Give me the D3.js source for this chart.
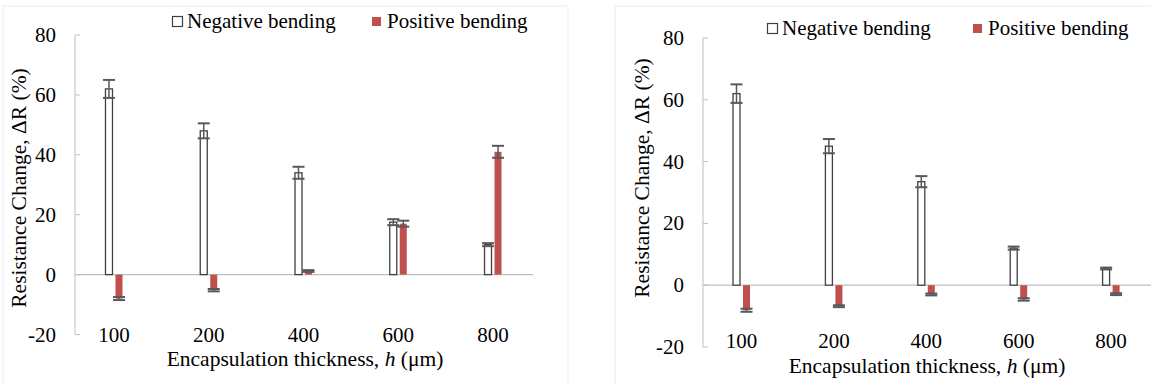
<!DOCTYPE html>
<html>
<head>
<meta charset="utf-8">
<script src="https://cdn.jsdelivr.net/npm/d3@7"></script>
<style>
  body { margin: 0; background: #fff; }
</style>
</head>
<body>
<svg id="chart" width="1151" height="384"></svg>
<script>
// thickness categories (um)
var thickness = ["100", "200", "400", "600", "800"];
var yTicks = [-20, 0, 20, 40, 60, 80];

// left panel
var leftNeg = [62, 48, 34, 17.5, 10];
var leftNegErr = [3, 2.5, 2, 1, 0.5];
var leftPos = [-8, -5.2, 1.2, 17, 41];
var leftPosErr = [0.5, 0.4, 0.3, 1, 2];

// right panel
var rightNeg = [62, 45, 33.5, 12, 5.4];
var rightNegErr = [3, 2.3, 1.8, 0.5, 0.3];
var rightPos = [-8.1, -6.8, -3, -4.6, -2.9];
var rightPosErr = [0.5, 0.3, 0.3, 0.4, 0.3];

var red = "#c0504d", dark = "#404040", errCol = "#595959", grid = "#bfbfbf";
var FONT = "'Liberation Serif', 'Times New Roman', Times, serif";
var FS = 21, FT = 21.5;

var svg = d3.select("#chart").attr("font-family", FONT);

function drawPanel(p) {
  var g = svg.append("g");

  // chart area border
  g.append("rect")
    .attr("x", p.box[0]).attr("y", p.box[1])
    .attr("width", p.box[2]).attr("height", p.box[3])
    .attr("fill", "none").attr("stroke", "#ececec");

  var x = d3.scaleBand().domain(thickness).range(p.xr);
  var y = d3.scaleLinear().domain([-20, 80]).range(p.yr);

  // y axis line + inside ticks
  g.append("line")
    .attr("x1", p.axisX).attr("x2", p.axisX)
    .attr("y1", y(80)).attr("y2", y(-20))
    .attr("stroke", grid).attr("stroke-width", 1);
  g.selectAll(".yt").data(yTicks).enter().append("line")
    .attr("x1", p.axisX).attr("x2", p.axisX + 5)
    .attr("y1", function(d){ return y(d); })
    .attr("y2", function(d){ return y(d); })
    .attr("stroke", grid);
  g.selectAll(".yl").data(yTicks).enter().append("text")
    .attr("x", p.axisX - 19)
    .attr("y", function(d){ return y(d) + 7; })
    .attr("text-anchor", "end")
    .attr("font-family", FONT)
    .attr("font-size", FS)
    .text(function(d){ return d; });

  // zero line
  g.append("line")
    .attr("x1", p.axisX).attr("x2", p.zeroEnd)
    .attr("y1", y(0)).attr("y2", y(0))
    .attr("stroke", grid).attr("stroke-width", 1.2);

  var bw = 7, gap = 3;
  function cx(i){ return x(thickness[i]) + x.bandwidth()/2; }

  // negative bending bars
  g.selectAll(".neg").data(p.neg).enter().append("rect")
    .attr("x", function(d, i){ return cx(i) - gap/2 - bw; })
    .attr("y", function(d){ return y(Math.max(0, d)); })
    .attr("width", bw)
    .attr("height", function(d){ return Math.abs(y(d) - y(0)); })
    .attr("fill", "#fff").attr("stroke", dark).attr("stroke-width", 1.3);

  // positive bending bars
  g.selectAll(".pos").data(p.pos).enter().append("rect")
    .attr("x", function(d, i){ return cx(i) + gap/2; })
    .attr("y", function(d){ return y(Math.max(0, d)); })
    .attr("width", bw)
    .attr("height", function(d){ return Math.abs(y(d) - y(0)); })
    .attr("fill", red);

  // error bars
  function errBars(vals, errs, off) {
    vals.forEach(function(v, i) {
      var c = cx(i) + off, e = errs[i];
      g.append("line")
        .attr("x1", c).attr("x2", c)
        .attr("y1", y(v + e)).attr("y2", y(v - e))
        .attr("stroke", errCol).attr("stroke-width", 1.5);
      [v + e, v - e].forEach(function(t) {
        g.append("line")
          .attr("x1", c - 6).attr("x2", c + 6)
          .attr("y1", y(t)).attr("y2", y(t))
          .attr("stroke", errCol).attr("stroke-width", 2);
      });
    });
  }
  errBars(p.neg, p.negErr, -gap/2 - bw/2);
  errBars(p.pos, p.posErr, gap/2 + bw/2);

  // x tick labels
  g.selectAll(".xl").data(thickness).enter().append("text")
    .attr("x", function(d, i){ return cx(i) + p.lblShift; })
    .attr("y", p.xLblY)
    .attr("text-anchor", "middle")
    .attr("font-family", FONT)
    .attr("font-size", FS)
    .text(function(d){ return d; });

  // axis titles
  var xt = g.append("text")
    .attr("x", p.xTitle[0]).attr("y", p.xTitle[1])
    .attr("text-anchor", "middle")
    .attr("font-family", FONT).attr("font-size", FT);
  xt.append("tspan").text("Encapsulation thickness, ");
  xt.append("tspan").attr("font-style", "italic").text("h");
  xt.append("tspan").text(" (\u03bcm)");

  g.append("text")
    .attr("transform", "translate(" + p.yTitle[0] + "," + p.yTitle[1] + ") rotate(-90)")
    .attr("text-anchor", "middle")
    .attr("font-family", FONT).attr("font-size", FT)
    .text("Resistance Change, \u0394R (%)");

  // legend
  var lg = g.append("g").attr("transform", "translate(" + p.legend[0] + "," + p.legend[1] + ")");
  lg.append("rect").attr("x", 0.5).attr("y", -11.5).attr("width", 10).attr("height", 10)
    .attr("fill", "#fff").attr("stroke", dark).attr("stroke-width", 1.2);
  lg.append("text").attr("x", 15).attr("y", 0)
    .attr("font-family", FONT).attr("font-size", FS).text("Negative bending");
  lg.append("rect").attr("x", p.legendGap).attr("y", -11).attr("width", 9).attr("height", 9)
    .attr("fill", red);
  lg.append("text").attr("x", p.legendGap + 15).attr("y", 0)
    .attr("font-family", FONT).attr("font-size", FS).text("Positive bending");
}

drawPanel({
  box: [3, 6, 565, 400],
  xr: [66.6, 540.4],
  yr: [334.5, 35],
  axisX: 75,
  zeroEnd: 533,
  neg: leftNeg, negErr: leftNegErr, pos: leftPos, posErr: leftPosErr,
  lblShift: 0,
  xLblY: 342,
  xTitle: [305, 366],
  yTitle: [26, 188],
  legend: [172, 28],
  legendGap: 200
});

drawPanel({
  box: [615, 6, 560, 400],
  xr: [695.3, 1157.3],
  yr: [347, 38],
  axisX: 703,
  zeroEnd: 1151,
  neg: rightNeg, negErr: rightNegErr, pos: rightPos, posErr: rightPosErr,
  lblShift: 0,
  xLblY: 348,
  xTitle: [927, 373],
  yTitle: [649, 178],
  legend: [767, 35],
  legendGap: 206
});
</script>
</body>
</html>
